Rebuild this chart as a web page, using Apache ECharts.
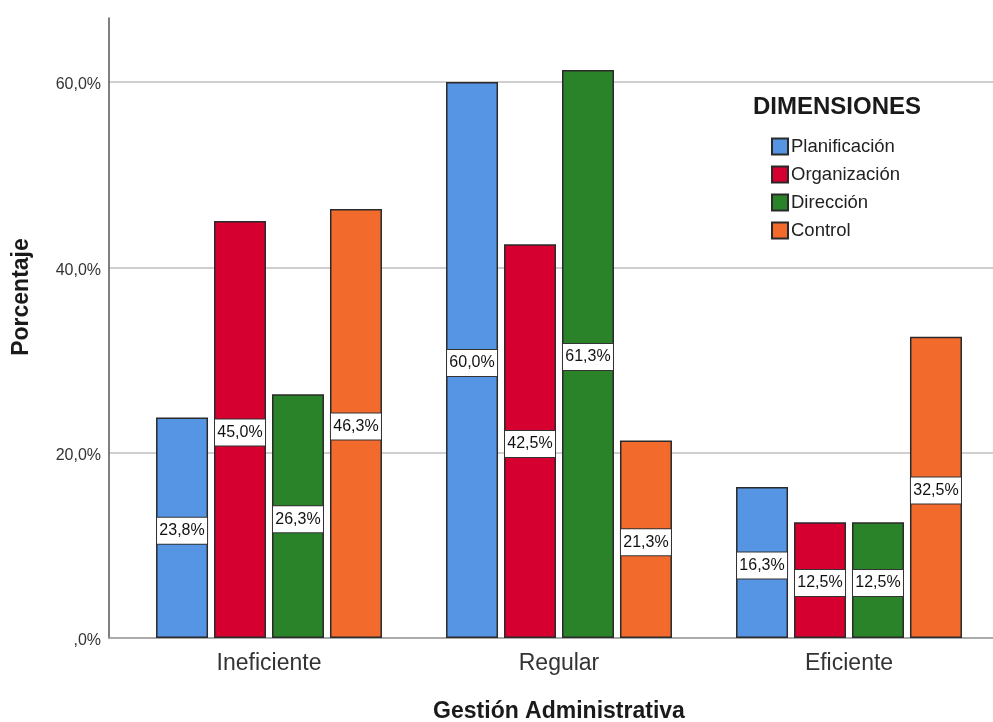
<!DOCTYPE html>
<html>
<head>
<meta charset="utf-8">
<script src="https://cdn.jsdelivr.net/npm/echarts@6/dist/echarts.min.js"></script>
<style>
  html, body { margin: 0; padding: 0; background: #fff; }
  #chart { width: 993px; height: 722px; }
</style>
</head>
<body>
<div id="chart"></div>
<script>
// Gestión Administrativa por dimensión (porcentajes)
const categories = ['Ineficiente', 'Regular', 'Eficiente'];
const seriesNames = ['Planificación', 'Organización', 'Dirección', 'Control'];
const planificacion = [23.8, 60.0, 16.3];
const organizacion = [45.0, 42.5, 12.5];
const direccion = [26.3, 61.3, 12.5];
const control = [46.3, 21.3, 32.5];
const yTicks = [0, 20, 40, 60];

const colors = ['#5595E4', '#D5002F', '#2A8229', '#F26A2C'];
const values = [planificacion, organizacion, direccion, control];
const FONT = '"Liberation Sans", Arial, sans-serif';

function pct(v) {
  const s = v.toFixed(1).replace('.', ',');
  return (s.startsWith('0,') ? s.slice(1) : s) + '%';
}

const chart = echarts.init(document.getElementById('chart'), null, { renderer: 'canvas' });

const series = seriesNames.map((name, i) => ({
  name: name,
  type: 'bar',
  xAxisIndex: 1,
  yAxisIndex: 1,
  data: values[i],
  barWidth: 52,
  barGap: '11.5%',
  itemStyle: { color: colors[i], borderColor: '#2a2a2a', borderWidth: 1.5 },
  label: {
    show: true,
    position: 'inside',
    offset: [0, 3],
    formatter: p => pct(p.value),
    color: '#111',
    fontFamily: FONT,
    fontSize: 16,
    backgroundColor: '#fff',
    borderColor: '#333',
    borderWidth: 1,
    width: 50,
    align: 'center',
    lineHeight: 18,
    padding: [4, 0]
  }
}));

chart.setOption({
  animation: false,
  backgroundColor: '#fff',
  title: {
    text: 'DIMENSIONES',
    left: 753,
    top: 95,
    padding: 0,
    textStyle: { fontFamily: FONT, fontSize: 24, fontWeight: 'bold', color: '#1a1a1a' }
  },
  legend: {
    data: seriesNames,
    orient: 'vertical',
    left: 771,
    top: 137,
    padding: 0,
    itemWidth: 16,
    itemHeight: 16,
    itemGap: 9,
    icon: 'rect',
    textStyle: { fontFamily: FONT, fontSize: 18.5, color: '#222', padding: [0, 0, 0, -2] }
  },
  grid: [
    // frame grid: gridlines, tick labels and the baseline
    { left: 109, right: 0, top: 82, bottom: 84, outerBoundsMode: 'none', containLabel: false },
    // bar grid
    { left: 124, right: -1, top: 18, bottom: 84, outerBoundsMode: 'none', containLabel: false }
  ],
  xAxis: [
    {
      gridIndex: 0, type: 'value', min: 0, max: 1,
      axisLine: { show: true, lineStyle: { color: '#a0a0a0', width: 1.5 } },
      axisTick: { show: false }, axisLabel: { show: false }, splitLine: { show: false }
    },
    {
      gridIndex: 1, type: 'category', data: categories,
      axisLine: { show: false }, axisTick: { show: false },
      axisLabel: { fontFamily: FONT, fontSize: 23, color: '#333', margin: 14 },
      name: 'Gestión Administrativa',
      nameLocation: 'middle',
      nameGap: 62,
      nameTextStyle: { fontFamily: FONT, fontSize: 23, fontWeight: 'bold', color: '#1a1a1a' }
    }
  ],
  yAxis: [
    {
      gridIndex: 0, type: 'value', min: yTicks[0], max: yTicks[yTicks.length - 1], interval: 20,
      axisLine: { show: false }, axisTick: { show: false },
      axisLabel: {
        formatter: v => '{t|' + pct(v) + '}',
        margin: 8,
        rich: { t: { fontFamily: FONT, fontSize: 16, color: '#333', padding: [6, 0, 0, 0] } }
      },
      splitLine: { show: true, lineStyle: { color: '#cfcfcf', width: 2 } }
    },
    {
      gridIndex: 1, type: 'value', min: 0, max: 66.9, offset: 15,
      axisLine: { show: true, lineStyle: { color: '#555', width: 1.5 } },
      axisTick: { show: false }, axisLabel: { show: false }, splitLine: { show: false }
    }
  ],
  graphic: [{
    type: 'text',
    x: 22, y: 297,
    rotation: Math.PI / 2,
    style: {
      text: 'Porcentaje',
      font: 'bold 23px ' + FONT,
      fill: '#1a1a1a',
      align: 'center',
      verticalAlign: 'middle'
    }
  }],
  series: series
});
</script>
</body>
</html>
